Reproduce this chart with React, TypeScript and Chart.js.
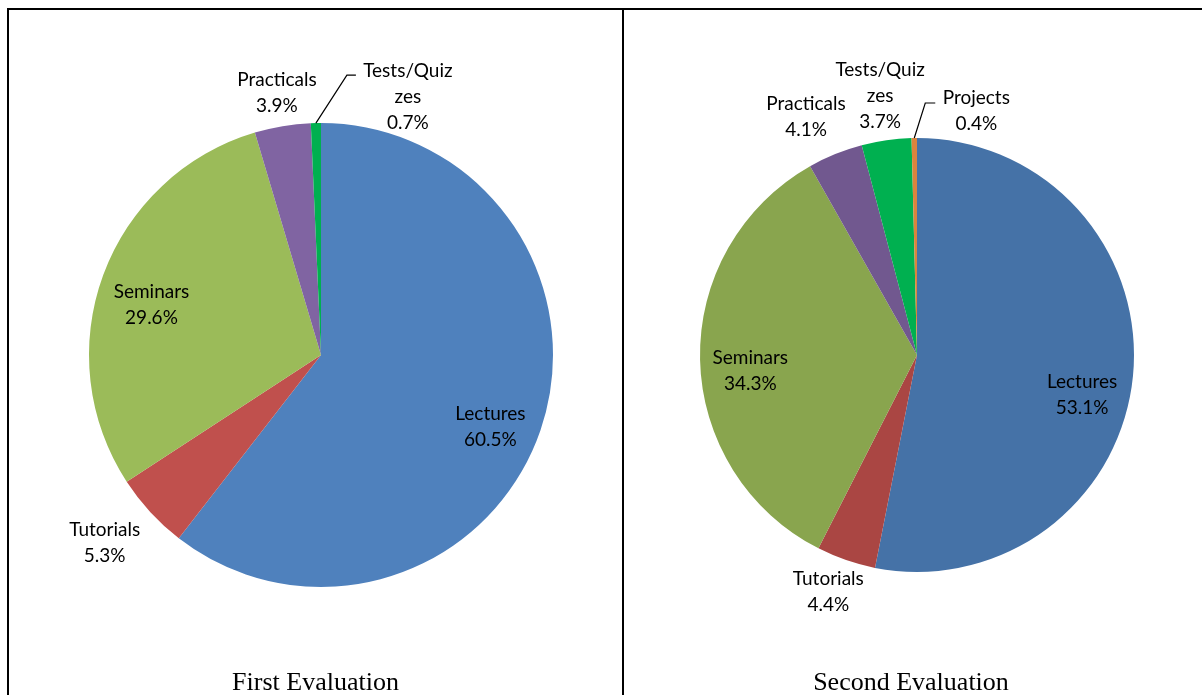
import { useEffect, useRef } from "react";
import { Chart, ArcElement, PieController } from "chart.js";

Chart.register(PieController, ArcElement);

// First evaluation: share of assessment (%)
const categoriesFirst = ["Lectures", "Tutorials", "Seminars", "Practicals", "Tests/Quizzes"];
const valuesFirst = [60.5, 5.3, 29.6, 3.9, 0.7];
const colorsFirst = ["#4F81BD", "#C0504D", "#9BBB59", "#8064A2", "#00B050"];

// Second evaluation: share of assessment (%)
const categoriesSecond = ["Lectures", "Tutorials", "Seminars", "Practicals", "Tests/Quizzes", "Projects"];
const valuesSecond = [53.1, 4.4, 34.3, 4.1, 3.7, 0.4];
const colorsSecond = ["#4572A7", "#AA4643", "#89A54E", "#71588F", "#00B050", "#DB843D"];

const titleFirst = "First Evaluation";
const titleSecond = "Second Evaluation";

type Placement =
  | { f: number; dx: number; dy: number }
  | { elbow: [number, number]; tail: number; text: [number, number] };

// Where each slice's label sits: radial factor + nudge, or a leader line for thin slices
const placementFirst: Placement[] = [
  { f: 0.79, dx: -4, dy: 13 },
  { f: 1.233, dx: -6, dy: -6 },
  { f: 0.76, dx: -4, dy: 11 },
  { f: 1.146, dx: 0, dy: 0 },
  { elbow: [31, -48], tail: 9, text: [92, -26] },
];
const placementSecond: Placement[] = [
  { f: 0.783, dx: -4, dy: 23 },
  { f: 1.166, dx: -6, dy: -2 },
  { f: 0.773, dx: 1, dy: 12 },
  { f: 1.21, dx: -12, dy: 5 },
  { f: 1.206, dx: 0, dy: 0 },
  { elbow: [11, -35], tail: 10, text: [62, -27] },
];

const LABEL_FONT = '19px Lato, "Noto Sans", sans-serif';
const LINE_GAP = 26;
const WRAP = 10;

function wrapName(name: string): string[] {
  const out: string[] = [];
  let rest = name;
  while (rest.length > WRAP) {
    out.push(rest.slice(0, WRAP));
    rest = rest.slice(WRAP);
  }
  out.push(rest);
  return out;
}

function makeLabelPlugin(placement: Placement[]) {
  return {
    id: "sliceLabels",
    afterDraw(chart: any) {
      const ctx: CanvasRenderingContext2D = chart.ctx;
      const meta = chart.getDatasetMeta(0);
      const names: string[] = chart.data.labels;
      const vals: number[] = chart.data.datasets[0].data;
      ctx.save();
      ctx.font = LABEL_FONT;
      ctx.fillStyle = "#000000";
      ctx.strokeStyle = "#000000";
      ctx.lineWidth = 1.2;
      ctx.textAlign = "center";
      ctx.textBaseline = "middle";
      meta.data.forEach((arc: any, i: number) => {
        const { x, y, startAngle, endAngle, outerRadius } = arc.getProps(
          ["x", "y", "startAngle", "endAngle", "outerRadius"],
          true
        );
        const mid = (startAngle + endAngle) / 2;
        const ux = Math.cos(mid);
        const uy = Math.sin(mid);
        const p = placement[i];
        let tx: number;
        let ty: number;
        if ("elbow" in p) {
          const ex = x + ux * outerRadius;
          const ey = y + uy * outerRadius;
          const bx = ex + p.elbow[0];
          const by = ey + p.elbow[1];
          ctx.beginPath();
          ctx.moveTo(ex, ey);
          ctx.lineTo(bx, by);
          ctx.lineTo(bx + p.tail, by);
          ctx.stroke();
          tx = ex + p.text[0];
          ty = ey + p.text[1];
        } else {
          const d = outerRadius * p.f;
          tx = x + ux * d + p.dx;
          ty = y + uy * d + p.dy;
        }
        const lines = wrapName(names[i]);
        lines.push(vals[i].toFixed(1) + "%");
        lines.forEach((ln, k) => {
          ctx.fillText(ln, tx, ty + (k - (lines.length - 1) / 2) * LINE_GAP);
        });
      });
      ctx.restore();
    },
  };
}

type PieProps = {
  left: number;
  width: number;
  cellWidth: number;
  labels: string[];
  values: number[];
  colors: string[];
  padding: { left: number; top: number; right: number; bottom: number };
  placement: Placement[];
  title: string;
};

const CANVAS_TOP = 10;
const CANVAS_H = 685;

function PieCell(props: PieProps) {
  const ref = useRef<HTMLCanvasElement | null>(null);
  useEffect(() => {
    let chart: Chart | null = null;
    let cancelled = false;
    const build = () => {
      if (cancelled || !ref.current) return;
      chart = new Chart(ref.current, {
        type: "pie",
        data: {
          labels: props.labels,
          datasets: [
            {
              data: props.values,
              backgroundColor: props.colors,
              borderWidth: 0,
              hoverOffset: 0,
            },
          ],
        },
        options: {
          responsive: false,
          animation: false,
          events: [],
          layout: { padding: props.padding },
          plugins: {
            legend: { display: false },
            tooltip: { enabled: false },
          } as any,
        },
        plugins: [makeLabelPlugin(props.placement)],
      });
    };
    const fonts = (document as any).fonts;
    if (fonts && fonts.load) {
      fonts.load(LABEL_FONT).then(build, build);
    } else {
      build();
    }
    return () => {
      cancelled = true;
      if (chart) chart.destroy();
    };
  }, []);
  return (
    <>
      <canvas
        ref={ref}
        width={props.width}
        height={CANVAS_H}
        style={{
          position: "absolute",
          left: props.left,
          top: CANVAS_TOP,
          width: props.width,
          height: CANVAS_H,
          display: "block",
        }}
      />
      <div
        style={{
          position: "absolute",
          left: props.left,
          top: 667,
          width: props.cellWidth,
          height: 30,
          lineHeight: "30px",
          textAlign: "center",
          fontFamily: '"Liberation Serif", "Times New Roman", serif',
          fontSize: 26,
          color: "#000",
        }}
      >
        {props.title}
      </div>
    </>
  );
}

export default function App() {
  return (
    <div
      style={{
        position: "fixed",
        left: 0,
        top: 0,
        width: 1202,
        height: 695,
        overflow: "hidden",
        background: "#ffffff",
      }}
    >
      {/* table borders */}
      <div style={{ position: "absolute", left: 7, top: 8, width: 1195, height: 2, background: "#000" }} />
      <div style={{ position: "absolute", left: 7, top: 8, width: 2, height: 687, background: "#000" }} />
      <div style={{ position: "absolute", left: 622, top: 8, width: 2, height: 687, background: "#000" }} />
      <PieCell
        left={9}
        width={613}
        cellWidth={613}
        labels={categoriesFirst}
        values={valuesFirst}
        colors={colorsFirst}
        padding={{ left: 80, top: 113, right: 69, bottom: 108 }}
        placement={placementFirst}
        title={titleFirst}
      />
      <PieCell
        left={624}
        width={578}
        cellWidth={574}
        labels={categoriesSecond}
        values={valuesSecond}
        colors={colorsSecond}
        padding={{ left: 76, top: 128, right: 68, bottom: 123 }}
        placement={placementSecond}
        title={titleSecond}
      />
    </div>
  );
}
